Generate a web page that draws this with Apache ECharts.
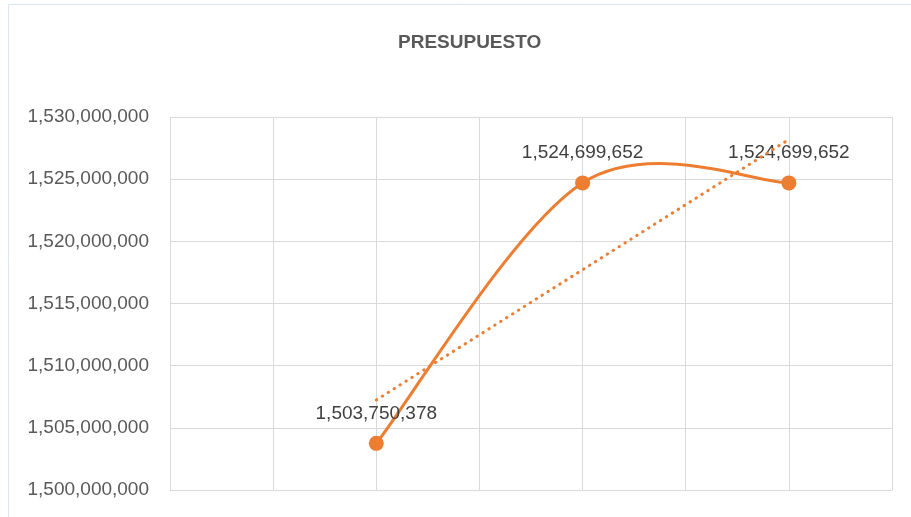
<!DOCTYPE html>
<html>
<head>
<meta charset="utf-8">
<script src="https://cdn.jsdelivr.net/npm/echarts@6/dist/echarts.min.js"></script>
<style>html,body{margin:0;padding:0;background:#fff}#c{width:911px;height:517px}</style>
</head>
<body>
<div id="c"></div>
<script>
const title = 'PRESUPUESTO';
const xPositions = [1, 2, 3];
const values = [1503750378, 1524699652, 1524699652];
const yTicks = {min: 1500000000, max: 1530000000, interval: 5000000};

// Linear trendline (least squares) from data
const n = values.length;
const mx = xPositions.reduce((a,b)=>a+b,0)/n;
const my = values.reduce((a,b)=>a+b,0)/n;
let sxy = 0, sxx = 0;
for (let i = 0; i < n; i++) { sxy += (xPositions[i]-mx)*(values[i]-my); sxx += (xPositions[i]-mx)**2; }
const slope = sxy/sxx, icpt = my - slope*mx;
const xa = Math.min(...xPositions), xb = Math.max(...xPositions);
const trend = [[xa, icpt + slope*xa], [xb, icpt + slope*xb]];

const fmt = v => Math.round(v).toString().replace(/\B(?=(\d{3})+(?!\d))/g, ',');
const COLOR = '#ED7D31';

// Smoothed (Catmull-Rom style, like Excel) curve drawn through the axes
function renderCurve(params, api) {
  const pts = xPositions.map((x, i) => api.coord([x, values[i]]));
  let d = 'M' + pts[0][0] + ' ' + pts[0][1];
  for (let i = 0; i < pts.length - 1; i++) {
    const p0 = pts[Math.max(i - 1, 0)], p1 = pts[i], p2 = pts[i + 1], p3 = pts[Math.min(i + 2, pts.length - 1)];
    const c1 = [p1[0] + (p2[0] - p0[0]) / 6, p1[1] + (p2[1] - p0[1]) / 6];
    const c2 = [p2[0] - (p3[0] - p1[0]) / 6, p2[1] - (p3[1] - p1[1]) / 6];
    d += ' C' + c1[0] + ' ' + c1[1] + ' ' + c2[0] + ' ' + c2[1] + ' ' + p2[0] + ' ' + p2[1];
  }
  return {type: 'path', shape: {pathData: d}, style: {fill: 'none', stroke: COLOR, lineWidth: 3, lineJoin: 'round'}};
}

const chart = echarts.init(document.getElementById('c'), null, {renderer: 'canvas'});
chart.setOption({
  animation: false,
  backgroundColor: '#fff',
  graphic: [{type: 'rect', shape: {x: 8.5, y: 4.5, width: 1000, height: 600}, style: {fill: 'none', stroke: '#dce6f2', lineWidth: 1}, z: -1}],
  title: {text: title, left: 393, top: 28, textStyle: {fontFamily: 'Liberation Sans', fontSize: 19, fontWeight: 'bold', color: '#595959'}},
  grid: {left: 170, right: 19, top: 117, bottom: 27, containLabel: false},
  xAxis: {type: 'value', min: 0, max: 3.5, interval: 0.5,
    axisLine: {show: true, lineStyle: {color: '#d9d9d9', width: 1}},
    axisTick: {show: false}, axisLabel: {show: false},
    splitLine: {show: true, lineStyle: {color: '#d9d9d9', width: 1}}},
  yAxis: {type: 'value', min: yTicks.min, max: yTicks.max, interval: yTicks.interval,
    axisLine: {show: false}, axisTick: {show: false},
    axisLabel: {formatter: fmt, fontFamily: 'Liberation Sans', fontSize: 19, color: '#595959', margin: 21},
    splitLine: {show: true, lineStyle: {color: '#d9d9d9', width: 1}}},
  series: [
    {type: 'custom', renderItem: renderCurve, data: [[xPositions[0], values[0]]], silent: true, z: 2},
    {type: 'scatter', data: xPositions.map((x,i)=>[x, values[i]]),
      symbol: 'circle', symbolSize: 15, itemStyle: {color: COLOR, opacity: 1},
      label: {show: true, position: 'top', distance: 13, formatter: p => fmt(p.value[1]),
        fontFamily: 'Liberation Sans', fontSize: 19, color: '#404040'}, z: 3},
    {type: 'line', data: trend, symbol: 'none', silent: true,
      lineStyle: {color: COLOR, width: 3, type: [0.5, 6.5], cap: 'round'}, z: 4}
  ]
});
</script>
</body>
</html>
